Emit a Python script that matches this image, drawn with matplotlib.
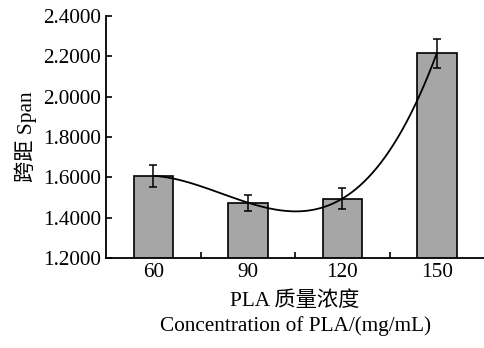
import matplotlib.pyplot as plt
import numpy as np

# data
concentrations = ['60', '90', '120', '150']
span = [1.607, 1.474, 1.494, 2.215]
span_err = [0.055, 0.040, 0.053, 0.072]

plt.rcParams['font.family'] = ['Liberation Serif', 'Noto Sans CJK SC']
plt.rcParams['font.size'] = 15.3

fig = plt.figure(figsize=(4.85, 3.48), dpi=100)
ax = fig.add_axes([0.219, 0.259, 0.779, 0.695])

x = np.arange(len(concentrations))
ax.bar(x, span, width=0.42, color='#a6a6a6', edgecolor='black', linewidth=1.2, zorder=2)
ax.errorbar(x, span, yerr=span_err, fmt='none', ecolor='black', elinewidth=1.1,
            capsize=3, capthick=1.1, zorder=4)

# smooth trend line through the bar tops
coef = np.polyfit(x, span, 3)
xs = np.linspace(x[0], x[-1], 200)
ax.plot(xs, np.polyval(coef, xs), color='black', linewidth=1.3, zorder=3)

ax.set_xlim(-0.5, 3.5)
ax.set_ylim(1.2, 2.4)
ax.set_yticks(np.arange(1.2, 2.41, 0.2))
ax.set_yticklabels(['%.4f' % v for v in np.arange(1.2, 2.41, 0.2)])
ax.set_xticks(x)
ax.set_xticklabels(concentrations)
ax.set_xticks([0.5, 1.5, 2.5], minor=True)
ax.tick_params(axis='x', which='major', length=0, pad=4)
ax.tick_params(axis='x', which='minor', direction='in', length=4, width=1.2)
ax.tick_params(axis='y', direction='in', length=4, width=1.2, pad=4)

for s in ['top', 'right']:
    ax.spines[s].set_visible(False)
for s in ['left', 'bottom']:
    ax.spines[s].set_linewidth(1.3)

ax.set_ylabel('跨距 Span', labelpad=4)
ax.set_xlabel('PLA 质量浓度\nConcentration of PLA/(mg/mL)', linespacing=1.38, labelpad=6)

fig.savefig('out.png', dpi=100)
